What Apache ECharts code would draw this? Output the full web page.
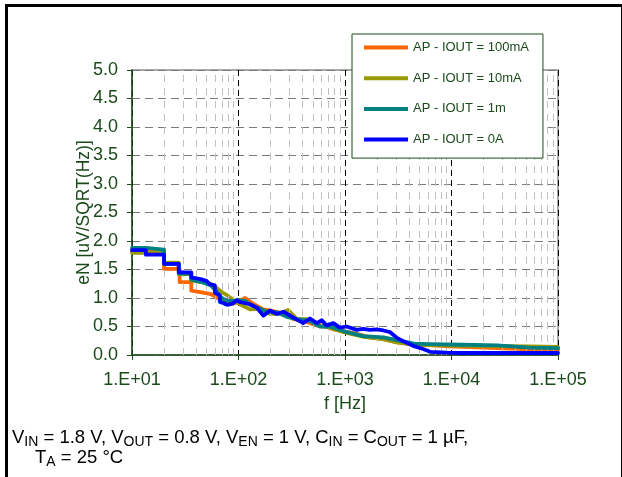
<!DOCTYPE html>
<html>
<head>
<meta charset="utf-8">
<script src="https://cdn.jsdelivr.net/npm/echarts@6/dist/echarts.min.js"></script>
<style>html,body{margin:0;padding:0;background:#fff;}#c{width:622px;height:477px;}</style>
</head>
<body>
<div id="c"></div>
<script>
// ---- data ----
const seriesNames = ['AP - IOUT = 100mA', 'AP - IOUT = 10mA', 'AP - IOUT = 1m', 'AP - IOUT = 0A'];
const yAxisTitle = 'eN [uV/SQRT(Hz)]';
const xAxisTitle = 'f [Hz]';

const freq100mA = [10,20,20,28,28,36,36,45,55,60,67,78,83,96,115,137,171,212,264,328,405,502,625,777,965,1287,1714,2294,3076,4074,5500,9660,26740,54560,100000];
const val100mA  = [1.82,1.82,1.51,1.51,1.28,1.28,1.13,1.10,1.07,1.03,0.97,0.90,0.89,0.92,1.00,0.90,0.80,0.77,0.73,0.63,0.60,0.54,0.52,0.45,0.42,0.37,0.31,0.28,0.22,0.19,0.18,0.15,0.12,0.10,0.09];

const freq10mA = [10,20,20,27.5,27.5,36,36,45,55,62,70,78,89,103,128,159,198,246,293,354,435,545,722,965,1476,2294,3076,4740,12820,54560,100000];
const val10mA  = [1.79,1.79,1.62,1.62,1.42,1.42,1.31,1.28,1.25,1.18,1.10,1.05,0.97,0.89,0.80,0.81,0.72,0.72,0.79,0.63,0.63,0.52,0.48,0.40,0.32,0.28,0.22,0.18,0.16,0.15,0.14];

const freq1m = [10,13.5,13.5,20,20,27.5,27.5,36,36,45,55,62,67,78,90,100,115,130,155,184,229,285,354,469,582,722,965,1476,2294,3076,4443,6281,12820,26740,37000,54560,100000];
const val1m  = [1.88,1.88,1.85,1.85,1.60,1.60,1.43,1.43,1.32,1.28,1.22,1.12,1.02,0.95,0.95,0.96,0.95,0.88,0.82,0.76,0.75,0.67,0.63,0.60,0.50,0.50,0.42,0.33,0.31,0.26,0.20,0.19,0.18,0.17,0.15,0.13,0.12];

const freq0A = [10,13.5,13.5,20,20,27.5,27.5,36,36,44,50,54,60,60,67,67,70,78,88,96,103,128,149,171,198,229,264,305,354,405,469,545,606,672,777,897,1036,1287,1476,1714,1980,2294,2654,3076,3559,4443,5500,6281,8970,12820,100000];
const val0A  = [1.84,1.84,1.76,1.76,1.60,1.60,1.45,1.45,1.36,1.33,1.30,1.24,1.22,1.09,1.05,0.93,0.92,0.88,0.90,0.96,0.93,0.89,0.83,0.69,0.78,0.72,0.76,0.69,0.62,0.56,0.64,0.56,0.61,0.52,0.56,0.48,0.50,0.44,0.46,0.44,0.45,0.43,0.40,0.30,0.24,0.155,0.10,0.056,0.04,0.035,0.035];

const xTickLabels = ['1.E+01','1.E+02','1.E+03','1.E+04','1.E+05'];
const yTickLabels = ['0.0','0.5','1.0','1.5','2.0','2.5','3.0','3.5','4.0','4.5','5.0'];
const minorFreqs = [20,30,40,50,60,70,80,90,200,300,400,500,600,700,800,900,2000,3000,4000,5000,6000,7000,8000,9000,20000,30000,40000,50000,60000,70000,80000,90000];

const colors = ['#FF6600','#999900','#008080','#0000FF'];
const txt = '#1b4a1b';
const FF = 'Liberation Sans, Arial, sans-serif';

function pairs(f, v){ return f.map((x,i)=>[x, v[i]]); }
const allData = [pairs(freq100mA,val100mA), pairs(freq10mA,val10mA), pairs(freq1m,val1m), pairs(freq0A,val0A)];

const chart = echarts.init(document.getElementById('c'), null, {renderer:'canvas'});

const series = [{
  type:'line', data:[], silent:true, z:1,
  markLine:{ silent:true, symbol:['none','none'], label:{show:false},
    lineStyle:{color:'#c0c0c0', type:[7,6], width:1},
    data: minorFreqs.map(f=>({xAxis:f})) }
}];
allData.forEach((d,i)=>{
  series.push({
    name: seriesNames[i], type:'line', data:d, showSymbol:false, symbol:'none',
    lineStyle:{color:colors[i], width:3.8, cap:'round', join:'round'},
    itemStyle:{color:colors[i]}, z: 3+i, animation:false
  });
});

const sub = {fontSize:14, fontFamily:FF, fill:'#000', lineHeight:22, verticalAlign:'top', padding:[7,0,0,0]};
const nrm = {fontSize:18.5, fontFamily:FF, fill:'#000', lineHeight:22, verticalAlign:'top'};

chart.setOption({
  animation:false,
  backgroundColor:'#fff',
  grid:{left:132, top:70, right:64, bottom:122, show:true, borderColor:'#8c8c8c', borderWidth:1.5, backgroundColor:'transparent'},
  xAxis:{
    type:'log', logBase:10, min:10, max:100000,
    name:xAxisTitle, nameLocation:'middle', nameGap:40,
    nameTextStyle:{color:txt, fontSize:18, fontFamily:FF},
    axisLine:{lineStyle:{color:'#1b4a1b', width:1.5}},
    axisTick:{show:true, length:5, lineStyle:{color:'#1b4a1b'}},
    axisLabel:{color:txt, fontSize:18, fontFamily:FF, margin:16,
      formatter:(v)=>xTickLabels[Math.round(Math.log10(v))-1]},
    splitLine:{show:true, lineStyle:{color:'#000', type:[6,4], width:1}}
  },
  yAxis:{
    type:'value', min:0, max:5, interval:0.5,
    axisLine:{show:true, lineStyle:{color:'#1b4a1b', width:1.5}},
    axisTick:{show:true, length:5, lineStyle:{color:'#1b4a1b'}},
    axisLabel:{color:txt, fontSize:18, fontFamily:FF, margin:14,
      formatter:(v)=>yTickLabels[Math.round(v*2)]},
    splitLine:{show:true, lineStyle:{color:'#7a7a7a', type:[8,5], width:1}}
  },
  legend:{
    orient:'vertical', left:352, top:34, z:10,
    backgroundColor:'#fff', borderColor:'#1b4a1b', borderWidth:1,
    padding:[7,14,12,12], itemGap:17.7, itemWidth:44, itemHeight:4,
    icon:'rect',
    textStyle:{color:txt, fontSize:13, fontFamily:FF},
    data: seriesNames
  },
  graphic:[
    {type:'rect', left:4, top:3, z:20, silent:true, shape:{width:616, height:480},
     style:{fill:'none', stroke:'#000', lineWidth:3}},
    {type:'text', x:84, y:212.5, rotation:Math.PI/2, z:20, silent:true,
     style:{text:yAxisTitle, fill:txt, fontSize:17.5, fontFamily:FF, align:'center', verticalAlign:'middle'}},
    {type:'text', left:12, top:428, z:20,
     style:{
       text:'{n|V}{s|IN}{n| = 1.8 V, V}{s|OUT}{n| = 0.8 V, V}{s|EN}{n| = 1 V, C}{s|IN}{n| = C}{s|OUT}{n| = 1 µF,}',
       rich:{n:nrm, s:sub}
     }},
    {type:'text', left:35, top:448, z:20,
     style:{
       text:'{n|T}{s|A}{n| = 25 °C}',
       rich:{n:nrm, s:sub}
     }}
  ],
  series: series
});
</script>
</body>
</html>
